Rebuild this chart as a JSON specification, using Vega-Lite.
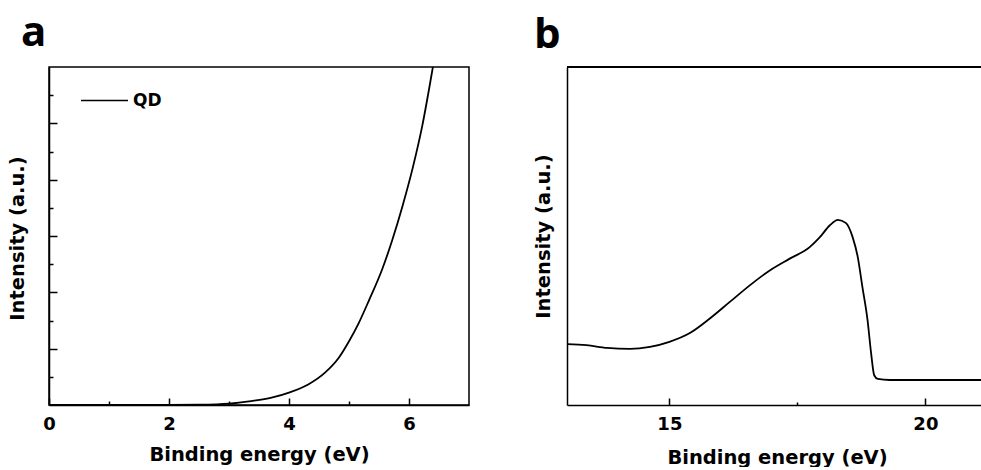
{
  "$schema": "https://vega.github.io/schema/vega-lite/v6.json",
  "padding": {"left": 6, "top": 11, "right": 0, "bottom": 0},
  "background": "white",
  "spacing": 98,
  "bounds": "flush",
  "config": {
    "view": {"stroke": "black", "strokeWidth": 1.5},
    "axis": {
      "grid": false,
      "labelFlush": false,
      "domainColor": "black",
      "domainWidth": 1.5,
      "tickColor": "black",
      "tickWidth": 1.5,
      "labelFont": "DejaVu Sans",
      "labelFontWeight": "bold",
      "labelFontSize": 18,
      "labelColor": "black",
      "titleFont": "DejaVu Sans",
      "titleFontWeight": "bold",
      "titleFontSize": 19.5,
      "titleColor": "black"
    },
    "legend": {
      "labelFont": "DejaVu Sans",
      "labelFontWeight": "bold",
      "labelFontSize": 17,
      "labelColor": "black"
    }
  },
  "datasets": {
    "a": [
      {"energy": 0, "intensity": 0, "series": "QD"},
      {"energy": 1, "intensity": 0, "series": "QD"},
      {"energy": 2, "intensity": 0, "series": "QD"},
      {"energy": 2.5, "intensity": 0.01, "series": "QD"},
      {"energy": 3.0, "intensity": 0.05, "series": "QD"},
      {"energy": 3.37, "intensity": 0.14, "series": "QD"},
      {"energy": 3.71, "intensity": 0.26, "series": "QD"},
      {"energy": 4.0, "intensity": 0.44, "series": "QD"},
      {"energy": 4.32, "intensity": 0.73, "series": "QD"},
      {"energy": 4.6, "intensity": 1.15, "series": "QD"},
      {"energy": 4.83, "intensity": 1.68, "series": "QD"},
      {"energy": 5.01, "intensity": 2.3, "series": "QD"},
      {"energy": 5.16, "intensity": 2.9, "series": "QD"},
      {"energy": 5.33, "intensity": 3.7, "series": "QD"},
      {"energy": 5.55, "intensity": 4.8, "series": "QD"},
      {"energy": 5.72, "intensity": 5.85, "series": "QD"},
      {"energy": 5.89, "intensity": 7.05, "series": "QD"},
      {"energy": 6.06, "intensity": 8.4, "series": "QD"},
      {"energy": 6.22, "intensity": 9.9, "series": "QD"},
      {"energy": 6.39, "intensity": 11.9, "series": "QD"},
      {"energy": 6.5, "intensity": 13.3, "series": "QD"}
    ],
    "b": [
      {"energy": 13.0, "intensity": 1.8, "series": "QD"},
      {"energy": 13.38, "intensity": 1.77, "series": "QD"},
      {"energy": 13.78, "intensity": 1.69, "series": "QD"},
      {"energy": 14.23, "intensity": 1.66, "series": "QD"},
      {"energy": 14.62, "intensity": 1.72, "series": "QD"},
      {"energy": 15.0, "intensity": 1.87, "series": "QD"},
      {"energy": 15.4, "intensity": 2.13, "series": "QD"},
      {"energy": 15.79, "intensity": 2.56, "series": "QD"},
      {"energy": 16.18, "intensity": 3.05, "series": "QD"},
      {"energy": 16.57, "intensity": 3.54, "series": "QD"},
      {"energy": 16.96, "intensity": 3.98, "series": "QD"},
      {"energy": 17.35, "intensity": 4.33, "series": "QD"},
      {"energy": 17.74, "intensity": 4.67, "series": "QD"},
      {"energy": 17.93, "intensity": 4.95, "series": "QD"},
      {"energy": 18.13, "intensity": 5.31, "series": "QD"},
      {"energy": 18.29, "intensity": 5.48, "series": "QD"},
      {"energy": 18.45, "intensity": 5.38, "series": "QD"},
      {"energy": 18.58, "intensity": 4.96, "series": "QD"},
      {"energy": 18.68, "intensity": 4.37, "series": "QD"},
      {"energy": 18.77, "intensity": 3.49, "series": "QD"},
      {"energy": 18.87, "intensity": 2.51, "series": "QD"},
      {"energy": 18.94, "intensity": 1.53, "series": "QD"},
      {"energy": 19.0, "intensity": 0.88, "series": "QD"},
      {"energy": 19.07, "intensity": 0.77, "series": "QD"},
      {"energy": 19.3, "intensity": 0.74, "series": "QD"},
      {"energy": 21.1, "intensity": 0.74, "series": "QD"}
    ]
  },
  "hconcat": [
    {
      "width": 420,
      "height": 338,
      "data": {"name": "a"},
      "resolve": {"axis": {"x": "independent", "y": "independent"}},
      "layer": [
        {
          "mark": {"type": "line", "clip": true, "strokeWidth": 1.8, "interpolate": "monotone"},
          "encoding": {
            "x": {"field": "energy", "type": "quantitative", "scale": {"domain": [0, 7], "nice": false, "zero": false},
                  "axis": {"orient": "bottom", "values": [0, 2, 4, 6], "tickSize": -7, "labelPadding": 17, "title": "Binding energy (eV)", "titleBaseline": "alphabetic", "titleY": 55}},
            "y": {"field": "intensity", "type": "quantitative", "scale": {"domain": [0, 12], "nice": false},
                  "axis": {"orient": "left", "values": [2, 4, 6, 8, 10], "tickSize": -8, "labels": false, "title": "Intensity (a.u.)", "titleBaseline": "alphabetic", "titleX": -26, "titleY": 171}},
            "color": {"field": "series", "type": "nominal", "scale": {"range": ["black"]},
                      "legend": {"orient": "none", "legendX": 31, "legendY": 9, "title": null, "symbolType": "stroke", "symbolSize": 2209, "symbolStrokeWidth": 1.6, "labelOffset": 4, "padding": 0}}
          }
        },
        {
          "mark": {"type": "line", "opacity": 0, "clip": true},
          "encoding": {
            "x": {"field": "energy", "type": "quantitative", "axis": {"orient": "bottom", "values": [1, 3, 5], "tickSize": -4, "labels": false, "domain": false, "title": null}},
            "y": {"field": "intensity", "type": "quantitative", "axis": {"orient": "left", "values": [1, 3, 5, 7, 9, 11], "tickSize": -4, "labels": false, "domain": false, "title": null}}
          }
        },
        {
          "data": {"values": [{"panel": "a", "px": -0.467, "py": 12.745}]},
          "mark": {"type": "text", "font": "Open Sans", "fontSize": 42, "fontWeight": "bold", "color": "black", "align": "left", "baseline": "alphabetic", "clip": false},
          "encoding": {
            "x": {"field": "px", "type": "quantitative", "axis": null},
            "y": {"field": "py", "type": "quantitative", "axis": null},
            "text": {"field": "panel"}
          }
        }
      ]
    },
    {
      "width": 414,
      "height": 338,
      "view": {"stroke": null},
      "data": {"name": "b"},
      "resolve": {"axis": {"x": "independent", "y": "independent"}},
      "layer": [
        {
          "mark": {"type": "line", "clip": true, "strokeWidth": 1.8, "interpolate": "monotone"},
          "encoding": {
            "x": {"field": "energy", "type": "quantitative", "scale": {"domain": [13, 21.086], "nice": false, "zero": false},
                  "axis": {"orient": "bottom", "values": [15, 20], "tickSize": -7, "labelPadding": 17, "title": "Binding energy (eV)", "titleBaseline": "alphabetic", "titleY": 58, "titleX": 210}},
            "y": {"field": "intensity", "type": "quantitative", "scale": {"domain": [0, 10], "nice": false},
                  "axis": {"orient": "left", "ticks": false, "labels": false, "title": "Intensity (a.u.)", "titleBaseline": "alphabetic", "titleX": -18}},
            "color": {"field": "series", "type": "nominal", "scale": {"range": ["black"]},
                      "legend": {"orient": "none", "legendX": 310, "legendY": 12, "title": null, "symbolType": "stroke", "symbolSize": 2304, "symbolStrokeWidth": 1.6, "labelOffset": 5, "padding": 0}}
          }
        },
        {
          "mark": {"type": "line", "opacity": 0, "clip": true},
          "encoding": {
            "x": {"field": "energy", "type": "quantitative", "axis": {"orient": "bottom", "values": [17.5], "tickSize": -3, "labels": false, "domain": false, "title": null}},
            "y": {"field": "intensity", "type": "quantitative", "axis": null}
          }
        },
        {
          "mark": {"type": "rule", "color": "black", "strokeWidth": 1.5},
          "encoding": {"y": {"datum": 10, "type": "quantitative", "axis": null}}
        },
        {
          "data": {"values": [{"panel": "b", "px": 12.355, "py": 10.57}]},
          "mark": {"type": "text", "font": "Open Sans", "fontSize": 42, "fontWeight": "bold", "color": "black", "align": "left", "baseline": "alphabetic", "clip": false},
          "encoding": {
            "x": {"field": "px", "type": "quantitative", "axis": null},
            "y": {"field": "py", "type": "quantitative", "axis": null},
            "text": {"field": "panel"}
          }
        }
      ]
    }
  ]
}
